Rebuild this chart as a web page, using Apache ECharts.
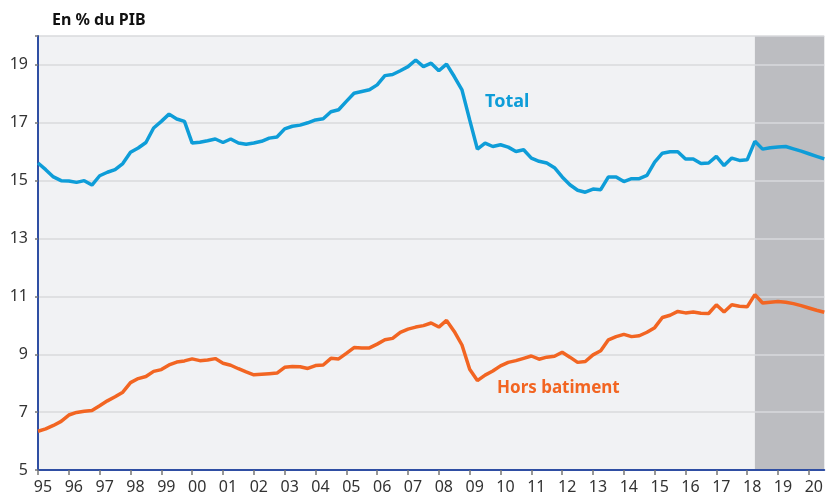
<!DOCTYPE html>
<html>
<head>
<meta charset="utf-8">
<script src="https://cdn.jsdelivr.net/npm/echarts@6/dist/echarts.min.js"></script>
<style>
  html, body { margin: 0; padding: 0; background: #fff; }
  #main { width: 826px; height: 497px; }
</style>
</head>
<body>
<div id="main"></div>
<script>
// trimestres 1995T1 .. 2020T3
var quarters = [];
for (var y = 1995; y <= 2020; y++) {
    for (var q = 1; q <= 4; q++) {
        if (y === 2020 && q > 3) break;
        quarters.push(y + 'T' + q);
    }
}

var yTicks = [5, 7, 9, 11, 13, 15, 17, 19];

// Total, en % du PIB
var totalData = [
    15.61, 15.38, 15.13, 15.00, 14.99, 14.94, 15.00, 14.85,
    15.17, 15.29, 15.38, 15.59, 15.98, 16.13, 16.32, 16.82,
    17.05, 17.30, 17.13, 17.05, 16.30, 16.33, 16.38, 16.44,
    16.32, 16.44, 16.30, 16.26, 16.30, 16.36, 16.47, 16.51,
    16.79, 16.88, 16.92, 17.00, 17.10, 17.14, 17.38, 17.45,
    17.74, 18.02, 18.08, 18.14, 18.31, 18.63, 18.67, 18.80,
    18.94, 19.17, 18.94, 19.06, 18.80, 19.03, 18.60, 18.14,
    17.10, 16.09, 16.30, 16.18, 16.24, 16.16, 16.01, 16.07,
    15.78, 15.67, 15.61, 15.45, 15.13, 14.86, 14.67, 14.60,
    14.71, 14.69, 15.13, 15.13, 14.97, 15.07, 15.07, 15.18,
    15.64, 15.95, 16.00, 16.00, 15.75, 15.75, 15.59, 15.61,
    15.84, 15.52, 15.78, 15.70, 15.72, 16.36, 16.09, 16.14,
    16.16, 16.18, 16.10, 16.02, 15.93, 15.84, 15.75
];

// Hors batiment, en % du PIB
var horsBatData = [
    6.34, 6.42, 6.54, 6.68, 6.90, 6.99, 7.03, 7.06,
    7.22, 7.39, 7.53, 7.69, 8.02, 8.16, 8.23, 8.41,
    8.47, 8.63, 8.73, 8.77, 8.84, 8.78, 8.80, 8.85,
    8.69, 8.62, 8.50, 8.39, 8.29, 8.31, 8.33, 8.35,
    8.55, 8.58, 8.57, 8.51, 8.61, 8.63, 8.86, 8.84,
    9.03, 9.23, 9.22, 9.22, 9.35, 9.50, 9.55, 9.76,
    9.87, 9.94, 9.99, 10.08, 9.94, 10.17, 9.79, 9.32,
    8.48, 8.09, 8.28, 8.42, 8.60, 8.72, 8.78, 8.86,
    8.94, 8.83, 8.90, 8.93, 9.07, 8.90, 8.72, 8.75,
    8.98, 9.12, 9.50, 9.61, 9.69, 9.61, 9.64, 9.76,
    9.92, 10.27, 10.35, 10.48, 10.43, 10.46, 10.42, 10.41,
    10.71, 10.46, 10.71, 10.66, 10.64, 11.06, 10.77, 10.80,
    10.82, 10.80, 10.75, 10.68, 10.60, 10.52, 10.45
];

// zone de prevision (grisee)
var forecastStart = '2018T2';
var forecastEnd = quarters[quarters.length - 1];

var blue = '#0e9dd8';
var orange = '#f26522';
var axisBlue = '#2f4ea3';
var fontName = 'Noto Sans';

function isYearStart(index) {
    return index % 4 === 0;
}

var myChart = echarts.init(document.getElementById('main'));
var option = {
    animation: false,
    backgroundColor: '#ffffff',
    textStyle: { fontFamily: fontName },
    grid: {
        left: 38,
        right: 0,
        top: 36,
        bottom: 27,
        show: true,
        backgroundColor: '#f1f2f4',
        borderWidth: 0
    },
    xAxis: {
        type: 'category',
        data: quarters,
        boundaryGap: false,
        z: 1.5,
        axisLine: { lineStyle: { color: axisBlue, width: 2 } },
        axisTick: {
            interval: isYearStart,
            length: 5,
            lineStyle: { color: '#777', width: 1.5 }
        },
        axisLabel: {
            interval: isYearStart,
            color: '#333',
            fontSize: 16,
            margin: 9,
            padding: [0, 0, 0, 10],
            formatter: function (value) {
                return value.substr(2, 2);
            }
        },
        splitLine: { show: false }
    },
    yAxis: {
        type: 'value',
        min: 5,
        max: 20,
        interval: 2,
        z: 1.5,
        axisLine: { show: true, lineStyle: { color: axisBlue, width: 2 } },
        axisTick: { show: true, length: 3, lineStyle: { color: '#777', width: 1.5 } },
        axisLabel: {
            color: '#333',
            fontSize: 16,
            margin: 10,
            formatter: function (v) {
                return yTicks.indexOf(v) >= 0 ? v : '';
            }
        },
        splitLine: { lineStyle: { color: '#d9dadd', width: 1.5 } }
    },
    title: {
        text: 'En % du PIB',
        left: 47,
        top: 7,
        textStyle: { fontSize: 16, fontWeight: 'bold', color: '#111', fontFamily: fontName }
    },
    graphic: [{
        type: 'text',
        left: 485,
        top: 93,
        style: { text: 'Total', fill: blue, fontSize: 18, fontWeight: 'bold', fontFamily: fontName }
    }, {
        type: 'text',
        left: 497,
        top: 380,
        style: { text: 'Hors batiment', fill: orange, fontSize: 17, fontWeight: 'bold', fontFamily: fontName }
    }],
    series: [{
        name: 'Total',
        type: 'line',
        data: totalData,
        z: 3,
        symbol: 'none',
        lineStyle: { color: blue, width: 3.5 },
        markArea: {
            silent: true,
            itemStyle: { color: '#bcbdc1' },
            data: [[{ xAxis: forecastStart }, { xAxis: forecastEnd }]]
        }
    }, {
        name: 'Hors batiment',
        type: 'line',
        data: horsBatData,
        z: 3,
        symbol: 'none',
        lineStyle: { color: orange, width: 3.5 }
    }]
};
myChart.setOption(option);
</script>
</body>
</html>
